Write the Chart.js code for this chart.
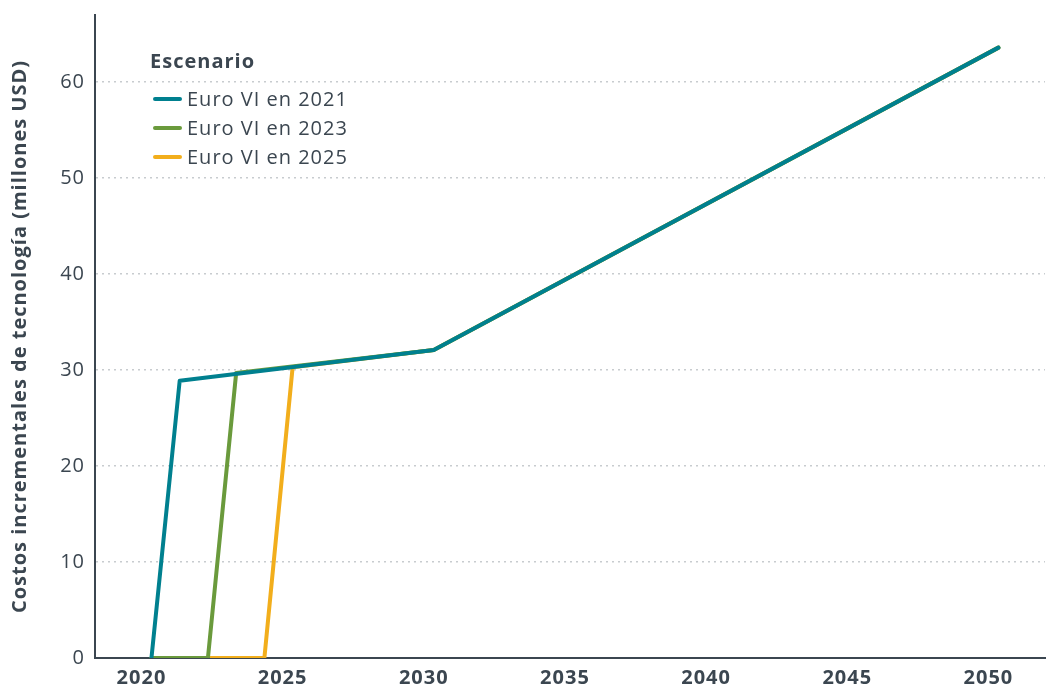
<!DOCTYPE html>
<html>
<head>
<meta charset="utf-8">
<script src="https://cdn.jsdelivr.net/npm/chart.js@4"></script>
<style>
  html, body { margin: 0; padding: 0; background: #fff; }
  #wrap { width: 1046px; height: 686px; }
</style>
</head>
<body>
<div id="wrap"><canvas id="costChart"></canvas></div>
<script>
// data
const scenarioLabels = ['Euro VI en 2021', 'Euro VI en 2023', 'Euro VI en 2025'];
const years2021 = [2020, 2021, 2030, 2050];
const costs2021 = [0, 28.9, 32.1, 63.6];
const years2023 = [2020, 2022, 2023, 2030, 2050];
const costs2023 = [0, 0, 29.7, 32.1, 63.6];
const years2025 = [2020, 2024, 2025, 2030, 2050];
const costs2025 = [0, 0, 30.3, 32.1, 63.6];
const xTicks = [2020, 2025, 2030, 2035, 2040, 2045, 2050];
const yTicks = [0, 10, 20, 30, 40, 50, 60];

const colors = ['#00808f', '#6a9a3c', '#f2ae1c'];
const textColor = '#3b4650';
const fontFamily = "'Open Sans', sans-serif";

function toPoints(xs, ys) {
    return xs.map(function (x, i) { return { x: x, y: ys[i] }; });
}

// wider look, closer to the original geometric face
// (canvas resize wipes context state, so set it again before layout and draw)
const spacing = {
    id: 'spacing',
    beforeUpdate: function (chart) { chart.ctx.letterSpacing = '1px'; },
    beforeDraw: function (chart) { chart.ctx.letterSpacing = '1px'; }
};

// legend drawn inside the plot area
const insideLegend = {
    id: 'insideLegend',
    afterDraw: function (chart) {
        const ctx = chart.ctx;
        ctx.save();
        ctx.textBaseline = 'middle';
        ctx.fillStyle = textColor;
        ctx.font = 'bold 20px ' + fontFamily;
        ctx.fillText('Escenario', 150, 62);
        ctx.font = '20px ' + fontFamily;
        chart.data.datasets.forEach(function (ds, i) {
            const y = 99 + i * 29;
            ctx.strokeStyle = ds.borderColor;
            ctx.lineWidth = 4;
            ctx.lineCap = 'round';
            ctx.beginPath();
            ctx.moveTo(155, y);
            ctx.lineTo(180, y);
            ctx.stroke();
            ctx.fillStyle = textColor;
            ctx.fillText(ds.label, 187, y + 1);
        });
        ctx.restore();
    }
};

new Chart(document.getElementById('costChart'), {
    type: 'line',
    data: {
        datasets: [
            { label: scenarioLabels[0], data: toPoints(years2021, costs2021), borderColor: colors[0] },
            { label: scenarioLabels[1], data: toPoints(years2023, costs2023), borderColor: colors[1] },
            { label: scenarioLabels[2], data: toPoints(years2025, costs2025), borderColor: colors[2] }
        ]
    },
    options: {
        responsive: true,
        maintainAspectRatio: false,
        animation: false,
        layout: { padding: { top: 15, right: 1, left: 0, bottom: 0 } },
        elements: {
            point: { radius: 0 },
            line: { borderWidth: 4, tension: 0, borderCapStyle: 'round', borderJoinStyle: 'round' }
        },
        plugins: {
            legend: { display: false },
            tooltip: { enabled: false }
        },
        scales: {
            x: {
                type: 'linear',
                min: 2018,
                max: 2051.65,
                afterBuildTicks: function (scale) {
                    scale.ticks = xTicks.map(function (v) { return { value: v }; });
                },
                afterFit: function (scale) {
                    scale.height = 28;
                    scale.paddingLeft = 0;
                    scale.paddingRight = 0;
                },
                grid: { display: false, drawTicks: false },
                border: { color: '#3b4650', width: 2 },
                ticks: {
                    color: textColor,
                    font: { family: fontFamily, size: 20, weight: 'bold' },
                    padding: 8,
                    labelOffset: -10,
                    maxRotation: 0,
                    callback: function (v) { return String(v); }
                }
            },
            y: {
                min: 0,
                max: 67,
                afterBuildTicks: function (scale) {
                    scale.ticks = yTicks.map(function (v) { return { value: v }; });
                },
                afterFit: function (scale) {
                    scale.width = 95;
                    scale.paddingTop = 0;
                    scale.paddingBottom = 0;
                },
                grid: {
                    drawTicks: false,
                    color: function (c) { return c.tick.value === 0 ? 'rgba(0,0,0,0)' : '#c8cccf'; },
                    lineWidth: 1.5
                },
                border: { color: '#3b4650', width: 2, dash: [2, 4] },
                ticks: {
                    color: textColor,
                    font: { family: fontFamily, size: 20 },
                    padding: 10
                },
                title: {
                    display: true,
                    text: 'Costos incrementales de tecnología (millones USD)',
                    color: textColor,
                    font: { family: fontFamily, size: 20, weight: 'bold' },
                    padding: { top: 8, bottom: 6 }
                }
            }
        }
    },
    plugins: [spacing, insideLegend]
});
</script>
</body>
</html>
